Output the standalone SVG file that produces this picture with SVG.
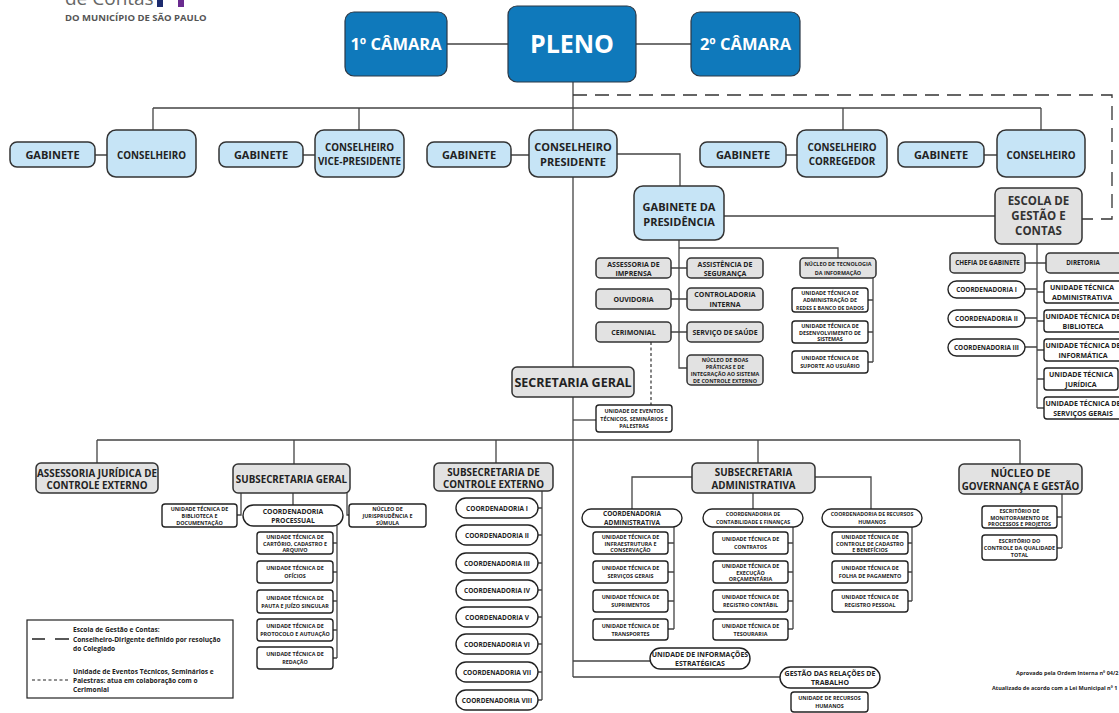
<svg xmlns="http://www.w3.org/2000/svg" width="1119" height="713" viewBox="0 0 1119 713">
<style>
text{font-family:'Open Sans','DejaVu Sans',sans-serif;font-weight:700;text-anchor:middle;fill:#222}
.blue{fill:#0f79bb;stroke:#2b3846;stroke-width:1.2}
.lb{fill:#c6e4f6;stroke:#333;stroke-width:1.5}
.gr{fill:#e2e2e2;stroke:#333;stroke-width:1.5}
.wh{fill:#fff;stroke:#222;stroke-width:1.4}
.ln{stroke:#444;stroke-width:1.3;fill:none}
.dl{stroke:#333;stroke-width:1.3;fill:none;stroke-dasharray:14 8}
.ds{stroke:#333;stroke-width:1.2;fill:none;stroke-dasharray:3 2.5}
.tw{fill:#fff}
.t25{font-size:25px}.t16{font-size:16.5px}.t11{font-size:11px}.t10{font-size:9.8px}
.t12{font-size:12.5px}.t7{font-size:7px}.t65{font-size:6.5px}.t55{font-size:5.4px}.t52{font-size:5.2px}
.lg{font-size:6.6px;text-anchor:start}
.nt{font-size:5.5px;text-anchor:start}
</style>

<g id="logo">
<text x="65" y="5" style="font-size:19px;font-weight:400;text-anchor:start;fill:#666">de Contas</text>
<rect x="157" y="0" width="6" height="7" fill="#1c2b6e"/>
<rect x="178" y="0" width="6" height="7" fill="#6a2b8f"/>
<text x="65" y="20.5" style="font-size:9.5px;text-anchor:start;fill:#555">DO MUNICÍPIO DE SÃO PAULO</text>
</g>

<g id="connectors">
<path class="ln" d="M447 44H508M636 44H691"/>
<path class="ln" d="M573 82V130M573 177V367M573 397V677"/>
<path class="ln" d="M153 108H1041M153 108V130M359 108V130M843 108V130M1041 108V130"/>
<path class="dl" d="M573 95H1112V219H1082"/>
<path class="ln" d="M95 155H107M303 155H315M511 155H529M786 155H797M984 155H997"/>
<path class="ln" d="M617 154H680V186M724 216H995"/>
<path class="ln" d="M679 240V368H687M679 248H838V258M671 268H687M671 299H687M671 332H687"/>
<path class="ln" d="M873 278V362M868 300H873M868 332H873M868 362H873"/>
<path class="ds" d="M651 342V405"/>
<path class="ln" d="M573 420H596"/>
<path class="ln" d="M97 440H1020M97 440V463M294 440V464M496 440V463M758 440V463M1020 440V464"/>
<path class="ln" d="M293 493V505M241 493V515H237M347 493V515H349"/>
<path class="ln" d="M337 526V658M333 543H337M333 572H337M333 601H337M333 630H337M333 658H337"/>
<path class="ln" d="M542 491V700M538 508H542M538 535H542M538 563H542M538 590H542M538 617H542M538 644H542M538 672H542M538 700H542"/>
<path class="ln" d="M692 477H632V509M815 477H871V509M753 493V509"/>
<path class="ln" d="M674 527V629M668 543H674M668 572H674M668 601H674M668 629H674"/>
<path class="ln" d="M793 527V629M788 543H793M788 572H793M788 601H793M788 629H793"/>
<path class="ln" d="M912 527V601M908 543H912M908 572H912M908 601H912"/>
<path class="ln" d="M573 661H650M573 677H780"/>
<path class="ln" d="M1062 494V548M1057 517H1062M1057 548H1062"/>
<path class="ln" d="M1037 244V408M1025 263H1046M1025 289H1037M1025 318H1037M1025 347H1037M1037 292H1044M1037 321H1044M1037 350H1044M1037 379H1044M1037 408H1044"/>
</g>

<g id="camara1"><rect class="blue" x="345" y="12" width="102" height="64" rx="9"/><text class="t16 tw" x="396" y="50">1º CÂMARA</text></g>
<g id="pleno"><rect class="blue" x="508" y="6" width="128" height="76" rx="9"/><text class="t25 tw" x="572" y="53">PLENO</text></g>
<g id="camara2"><rect class="blue" x="691" y="12" width="109" height="64" rx="9"/><text class="t16 tw" x="745.5" y="50">2º CÂMARA</text></g>

<g id="gab1"><rect class="lb" x="10" y="142" width="85" height="25" rx="7"/><text class="t11" x="52.5" y="159">GABINETE</text></g>
<g id="cons1"><rect class="lb" x="107" y="130" width="89" height="47" rx="9"/><text class="t10" x="151.5" y="158.5">CONSELHEIRO</text></g>
<g id="gab2"><rect class="lb" x="219" y="142" width="84" height="25" rx="7"/><text class="t11" x="261" y="159">GABINETE</text></g>
<g id="consvice"><rect class="lb" x="315" y="130" width="89" height="47" rx="9"/><text class="t10" x="359.5" y="150.5">CONSELHEIRO</text><text class="t10" x="359.5" y="164.5">VICE-PRESIDENTE</text></g>
<g id="gab3"><rect class="lb" x="427" y="142" width="84" height="25" rx="7"/><text class="t11" x="469" y="159">GABINETE</text></g>
<g id="conspres"><rect class="lb" x="529" y="130" width="88" height="47" rx="9"/><text class="t11" x="573" y="151">CONSELHEIRO</text><text class="t11" x="573" y="165.5">PRESIDENTE</text></g>
<g id="gab4"><rect class="lb" x="700" y="142" width="86" height="25" rx="7"/><text class="t11" x="743" y="159">GABINETE</text></g>
<g id="conscorreg"><rect class="lb" x="797" y="130" width="90" height="47" rx="9"/><text class="t10" x="842" y="150.5">CONSELHEIRO</text><text class="t10" x="842" y="164.5">CORREGEDOR</text></g>
<g id="gab5"><rect class="lb" x="898" y="142" width="86" height="25" rx="7"/><text class="t11" x="941" y="159">GABINETE</text></g>
<g id="cons5"><rect class="lb" x="997" y="130" width="88" height="47" rx="9"/><text class="t10" x="1041" y="158.5">CONSELHEIRO</text></g>

<g id="gabpres"><rect class="lb" x="634" y="186" width="90" height="54" rx="9"/><text class="t11" x="679" y="211">GABINETE DA</text><text class="t11" x="679" y="226">PRESIDÊNCIA</text></g>
<g id="escola"><rect class="gr" x="995" y="188" width="87" height="56" rx="6"/><text style="font-size:11.5px;fill:#333" x="1038.5" y="205">ESCOLA DE</text><text style="font-size:11.5px;fill:#333" x="1038.5" y="220">GESTÃO E</text><text style="font-size:11.5px;fill:#333" x="1038.5" y="235">CONTAS</text></g>

<g id="assimprensa"><rect class="gr" x="596" y="258" width="75" height="20" rx="4"/><text class="t7" x="633.5" y="266.5">ASSESSORIA DE</text><text class="t7" x="633.5" y="275.5">IMPRENSA</text></g>
<g id="assseg"><rect class="gr" x="687" y="258" width="76" height="20" rx="4"/><text class="t7" x="725" y="266.5">ASSISTÊNCIA DE</text><text class="t7" x="725" y="275.5">SEGURANÇA</text></g>
<g id="ouvidoria"><rect class="gr" x="596" y="289" width="75" height="20" rx="4"/><text class="t7" x="633.5" y="301.5">OUVIDORIA</text></g>
<g id="controladoria"><rect class="gr" x="687" y="288" width="76" height="22" rx="4"/><text class="t7" x="725" y="297">CONTROLADORIA</text><text class="t7" x="725" y="306.5">INTERNA</text></g>
<g id="cerimonial"><rect class="gr" x="596" y="322" width="75" height="20" rx="4"/><text class="t7" x="633.5" y="334.5">CERIMONIAL</text></g>
<g id="saude"><rect class="gr" x="687" y="322" width="76" height="20" rx="4"/><text class="t7" x="725" y="334.5">SERVIÇO DE SAÚDE</text></g>
<g id="boaspraticas"><rect class="gr" x="687" y="355" width="76" height="30" rx="4"/><text class="t55" x="725" y="361.5">NÚCLEO DE BOAS</text><text class="t55" x="725" y="368.5">PRÁTICAS E DE</text><text class="t55" x="725" y="375.5">INTEGRAÇÃO AO SISTEMA</text><text class="t55" x="725" y="382.5">DE CONTROLE EXTERNO</text></g>
<g id="nti"><rect class="gr" x="800" y="258" width="76" height="20" rx="4"/><text class="t55" x="838" y="266">NÚCLEO DE TECNOLOGIA</text><text class="t55" x="838" y="274.5">DA INFORMAÇÃO</text></g>
<g id="utredes"><rect class="wh" x="792" y="288" width="76" height="24" rx="3"/><text class="t55" x="830" y="294.5">UNIDADE TÉCNICA DE</text><text class="t55" x="830" y="302">ADMINISTRAÇÃO DE</text><text class="t52" x="830" y="309.5">REDES E BANCO DE DADOS</text></g>
<g id="utdesenv"><rect class="wh" x="792" y="321" width="76" height="22" rx="3"/><text class="t55" x="830" y="327.5">UNIDADE TÉCNICA DE</text><text class="t55" x="830" y="334.5">DESENVOLVIMENTO DE</text><text class="t55" x="830" y="341.3">SISTEMAS</text></g>
<g id="utsuporte"><rect class="wh" x="792" y="351" width="76" height="22" rx="3"/><text class="t55" x="830" y="360">UNIDADE TÉCNICA DE</text><text class="t55" x="830" y="368">SUPORTE AO USUÁRIO</text></g>

<g id="secgeral"><rect class="gr" x="512" y="367" width="122" height="30" rx="5"/><text class="t12" x="573" y="386.5">SECRETARIA GERAL</text></g>
<g id="uneventos"><rect class="wh" x="596" y="405" width="76" height="27" rx="3"/><text class="t55" x="634" y="413">UNIDADE DE EVENTOS</text><text class="t55" x="634" y="420.5">TÉCNICOS, SEMINÁRIOS E</text><text class="t55" x="634" y="428">PALESTRAS</text></g>

<g id="chefia"><rect class="gr" x="950" y="253" width="75" height="20" rx="4"/><text style="font-size:6.3px" x="987.5" y="265.3">CHEFIA DE GABINETE</text></g>
<g id="diretoria"><rect class="gr" x="1046" y="253" width="76" height="20" rx="4"/><text style="font-size:6.3px" x="1083" y="265.3">DIRETORIA</text></g>
<g id="ecoord1"><rect class="wh" x="948" y="281" width="77" height="17" rx="8.5"/><text style="font-size:6.4px" x="986.5" y="291.8">COORDENADORIA I</text></g>
<g id="ecoord2"><rect class="wh" x="948" y="310" width="77" height="17" rx="8.5"/><text style="font-size:6.4px" x="986.5" y="320.8">COORDENADORIA II</text></g>
<g id="ecoord3"><rect class="wh" x="948" y="339" width="77" height="17" rx="8.5"/><text style="font-size:6.4px" x="986.5" y="349.8">COORDENADORIA III</text></g>
<g id="utadm"><rect class="wh" x="1044" y="281" width="78" height="22" rx="3"/><text class="t7" x="1082" y="290">UNIDADE TÉCNICA</text><text class="t7" x="1082" y="299.5">ADMINISTRATIVA</text></g>
<g id="utbib"><rect class="wh" x="1044" y="310" width="78" height="22" rx="3"/><text class="t7" x="1083" y="319">UNIDADE TÉCNICA DE</text><text class="t7" x="1083" y="328.5">BIBLIOTECA</text></g>
<g id="utinf"><rect class="wh" x="1044" y="339" width="78" height="22" rx="3"/><text class="t7" x="1083" y="348">UNIDADE TÉCNICA DE</text><text class="t7" x="1083" y="357.5">INFORMÁTICA</text></g>
<g id="utjur"><rect class="wh" x="1044" y="368" width="74" height="22" rx="3"/><text class="t7" x="1081" y="377">UNIDADE TÉCNICA</text><text class="t7" x="1081" y="386.5">JURÍDICA</text></g>
<g id="utsg"><rect class="wh" x="1044" y="397" width="78" height="22" rx="3"/><text class="t7" x="1083" y="406">UNIDADE TÉCNICA DE</text><text class="t7" x="1083" y="415.5">SERVIÇOS GERAIS</text></g>

<g id="assjur"><rect class="gr" x="36" y="463" width="122" height="30" rx="5"/><text class="t10" x="97" y="476.5">ASSESSORIA JURÍDICA DE</text><text class="t10" x="97" y="488.5">CONTROLE EXTERNO</text></g>
<g id="subgeral"><rect class="gr" x="233" y="464" width="117" height="29" rx="5"/><text class="t10" x="291.5" y="482.5">SUBSECRETARIA GERAL</text></g>
<g id="utbibdoc"><rect class="wh" x="162" y="504" width="75" height="23" rx="3"/><text class="t55" x="199.5" y="510.5">UNIDADE TÉCNICA DE</text><text class="t55" x="199.5" y="517.5">BIBLIOTECA E</text><text class="t55" x="199.5" y="524.5">DOCUMENTAÇÃO</text></g>
<g id="coordproc"><rect class="wh" x="243" y="505" width="100" height="21" rx="10.5"/><text style="font-size:6.8px" x="293" y="513.5">COORDENADORIA</text><text style="font-size:6.8px" x="293" y="522.5">PROCESSUAL</text></g>
<g id="nucjur"><rect class="wh" x="349" y="504" width="77" height="23" rx="3"/><text class="t55" x="387.5" y="510.5">NÚCLEO DE</text><text class="t55" x="387.5" y="517.5">JURISPRUDÊNCIA E</text><text class="t55" x="387.5" y="524.5">SÚMULA</text></g>
<g id="utcartorio"><rect class="wh" x="257" y="532" width="76" height="22" rx="3"/><text class="t55" x="295" y="538.5">UNIDADE TÉCNICA DE</text><text class="t55" x="295" y="545.5">CARTÓRIO, CADASTRO E</text><text class="t55" x="295" y="552.3">ARQUIVO</text></g>
<g id="utoficios"><rect class="wh" x="257" y="561" width="76" height="22" rx="3"/><text class="t55" x="295" y="570">UNIDADE TÉCNICA DE</text><text class="t55" x="295" y="578">OFÍCIOS</text></g>
<g id="utpauta"><rect class="wh" x="257" y="590" width="76" height="23" rx="3"/><text class="t55" x="295" y="599.5">UNIDADE TÉCNICA DE</text><text class="t55" x="295" y="607.5">PAUTA E JUÍZO SINGULAR</text></g>
<g id="utprotocolo"><rect class="wh" x="257" y="619" width="76" height="22" rx="3"/><text class="t55" x="295" y="628">UNIDADE TÉCNICA DE</text><text class="t55" x="295" y="636">PROTOCOLO E AUTUAÇÃO</text></g>
<g id="utredacao"><rect class="wh" x="257" y="647" width="76" height="22" rx="3"/><text class="t55" x="295" y="656">UNIDADE TÉCNICA DE</text><text class="t55" x="295" y="664">REDAÇÃO</text></g>

<g id="subce"><rect class="gr" x="434" y="463" width="119" height="28" rx="5"/><text class="t10" x="493.5" y="475.5">SUBSECRETARIA DE</text><text class="t10" x="493.5" y="488">CONTROLE EXTERNO</text></g>
<g id="ce1"><rect class="wh" x="456" y="498" width="82" height="20" rx="10"/><text class="t65" x="497" y="510.5">COORDENADORIA I</text></g>
<g id="ce2"><rect class="wh" x="456" y="525" width="82" height="20" rx="10"/><text class="t65" x="497" y="537.5">COORDENADORIA II</text></g>
<g id="ce3"><rect class="wh" x="456" y="553" width="82" height="20" rx="10"/><text class="t65" x="497" y="565.5">COORDENADORIA III</text></g>
<g id="ce4"><rect class="wh" x="456" y="580" width="82" height="20" rx="10"/><text class="t65" x="497" y="592.5">COORDENADORIA IV</text></g>
<g id="ce5"><rect class="wh" x="456" y="607" width="82" height="20" rx="10"/><text class="t65" x="497" y="619.5">COORDENADORIA V</text></g>
<g id="ce6"><rect class="wh" x="456" y="634" width="82" height="20" rx="10"/><text class="t65" x="497" y="646.5">COORDENADORIA VI</text></g>
<g id="ce7"><rect class="wh" x="456" y="662" width="82" height="20" rx="10"/><text class="t65" x="497" y="674.5">COORDENADORIA VII</text></g>
<g id="ce8"><rect class="wh" x="456" y="690" width="82" height="20" rx="10"/><text class="t65" x="497" y="702.5">COORDENADORIA VIII</text></g>

<g id="subadm"><rect class="gr" x="692" y="463" width="123" height="30" rx="5"/><text class="t10" x="753.5" y="475.5">SUBSECRETARIA</text><text class="t10" x="753.5" y="489">ADMINISTRATIVA</text></g>
<g id="coordadm"><rect class="wh" x="582" y="509" width="100" height="18" rx="9"/><text class="t65" x="632" y="516">COORDENADORIA</text><text class="t65" x="632" y="524.5">ADMINISTRATIVA</text></g>
<g id="coordcont"><rect class="wh" x="703" y="509" width="100" height="18" rx="9"/><text class="t52" x="753" y="516">COORDENADORIA DE</text><text class="t52" x="753" y="524">CONTABILIDADE E FINANÇAS</text></g>
<g id="coordrh"><rect class="wh" x="822" y="509" width="100" height="18" rx="9"/><text class="t52" x="872" y="516">COORDENADORIA DE RECURSOS</text><text class="t52" x="872" y="524">HUMANOS</text></g>
<g id="utinfra"><rect class="wh" x="593" y="532" width="75" height="22" rx="3"/><text class="t55" x="630.5" y="538.5">UNIDADE TÉCNICA DE</text><text class="t55" x="630.5" y="545.5">INFRAESTRUTURA E</text><text class="t55" x="630.5" y="552.3">CONSERVAÇÃO</text></g>
<g id="utservgerais"><rect class="wh" x="593" y="561" width="75" height="22" rx="3"/><text class="t55" x="630.5" y="570">UNIDADE TÉCNICA DE</text><text class="t55" x="630.5" y="578">SERVIÇOS GERAIS</text></g>
<g id="utsupr"><rect class="wh" x="593" y="590" width="75" height="22" rx="3"/><text class="t55" x="630.5" y="599">UNIDADE TÉCNICA DE</text><text class="t55" x="630.5" y="607">SUPRIMENTOS</text></g>
<g id="uttransp"><rect class="wh" x="593" y="619" width="75" height="21" rx="3"/><text class="t55" x="630.5" y="627.5">UNIDADE TÉCNICA DE</text><text class="t55" x="630.5" y="635.5">TRANSPORTES</text></g>
<g id="utcontratos"><rect class="wh" x="713" y="532" width="75" height="22" rx="3"/><text class="t55" x="750.5" y="541">UNIDADE TÉCNICA DE</text><text class="t55" x="750.5" y="549">CONTRATOS</text></g>
<g id="utexec"><rect class="wh" x="713" y="561" width="75" height="22" rx="3"/><text class="t55" x="750.5" y="567.5">UNIDADE TÉCNICA DE</text><text class="t55" x="750.5" y="574.5">EXECUÇÃO</text><text class="t55" x="750.5" y="581.3">ORÇAMENTÁRIA</text></g>
<g id="utregcont"><rect class="wh" x="713" y="590" width="75" height="22" rx="3"/><text class="t55" x="750.5" y="599">UNIDADE TÉCNICA DE</text><text class="t55" x="750.5" y="607">REGISTRO CONTÁBIL</text></g>
<g id="uttesouraria"><rect class="wh" x="713" y="619" width="75" height="21" rx="3"/><text class="t55" x="750.5" y="627.5">UNIDADE TÉCNICA DE</text><text class="t55" x="750.5" y="635.5">TESOURARIA</text></g>
<g id="utcadastro"><rect class="wh" x="832" y="532" width="76" height="22" rx="3"/><text class="t55" x="870" y="538.5">UNIDADE TÉCNICA DE</text><text class="t55" x="870" y="545.5">CONTROLE DE CADASTRO</text><text class="t55" x="870" y="552.3">E BENEFÍCIOS</text></g>
<g id="utfolha"><rect class="wh" x="832" y="561" width="76" height="22" rx="3"/><text class="t55" x="870" y="570">UNIDADE TÉCNICA DE</text><text class="t55" x="870" y="578">FOLHA DE PAGAMENTO</text></g>
<g id="utregpessoal"><rect class="wh" x="832" y="590" width="76" height="22" rx="3"/><text class="t55" x="870" y="599">UNIDADE TÉCNICA DE</text><text class="t55" x="870" y="607">REGISTRO PESSOAL</text></g>
<g id="uninfo"><rect class="wh" x="650" y="648" width="100" height="21" rx="10.5"/><text class="t7" x="700" y="656.5">UNIDADE DE INFORMAÇÕES</text><text class="t7" x="700" y="665.5">ESTRATÉGICAS</text></g>
<g id="gestaorel"><rect class="wh" x="780" y="667" width="100" height="21" rx="10.5"/><text class="t7" x="830" y="675.5">GESTÃO DAS RELAÇÕES DE</text><text class="t7" x="830" y="684.5">TRABALHO</text></g>
<g id="unrh"><rect class="wh" x="791" y="692" width="77" height="20" rx="3"/><text class="t55" x="829.5" y="700">UNIDADE DE RECURSOS</text><text class="t55" x="829.5" y="708">HUMANOS</text></g>

<g id="nucgov"><rect class="gr" x="959" y="464" width="123" height="30" rx="5"/><text style="font-size:10.5px" x="1020.5" y="476.5">NÚCLEO DE</text><text class="t10" x="1020.5" y="490">GOVERNANÇA E GESTÃO</text></g>
<g id="escmonit"><rect class="wh" x="982" y="506" width="75" height="22" rx="3"/><text class="t55" x="1019.5" y="512.5">ESCRITÓRIO DE</text><text class="t55" x="1019.5" y="519.5">MONITORAMENTO DE</text><text class="t55" x="1019.5" y="526.3">PROCESSOS E PROJETOS</text></g>
<g id="escqual"><rect class="wh" x="982" y="535" width="75" height="25" rx="3"/><text class="t55" x="1019.5" y="542.5">ESCRITÓRIO DO</text><text class="t55" x="1019.5" y="549.5">CONTROLE DA QUALIDADE</text><text class="t55" x="1019.5" y="556.5">TOTAL</text></g>

<g id="legend">
<rect x="27" y="620" width="206" height="78" fill="#fff" stroke="#222" stroke-width="1.2"/>
<path d="M32 639H45M55 639H69" stroke="#222" stroke-width="1.3"/>
<path d="M32 680H69" stroke="#222" stroke-width="1.2" stroke-dasharray="3 2.5"/>
<text class="lg" x="73" y="632">Escola de Gestão e Contas:</text>
<text class="lg" x="73" y="641.5">Conselheiro-Dirigente definido por resolução</text>
<text class="lg" x="73" y="651">do Colegiado</text>
<text class="lg" x="73" y="673.5">Unidade de Eventos Técnicos, Seminários e</text>
<text class="lg" x="73" y="682.5">Palestras: atua em colaboração com o</text>
<text class="lg" x="73" y="691.5">Cerimonial</text>
</g>

<g id="notes">
<text class="nt" x="1016" y="675">Aprovado pela Ordem Interna nº 04/2</text>
<text class="nt" x="992" y="690">Atualizado de acordo com a Lei Municipal nº 1</text>
</g>
</svg>
